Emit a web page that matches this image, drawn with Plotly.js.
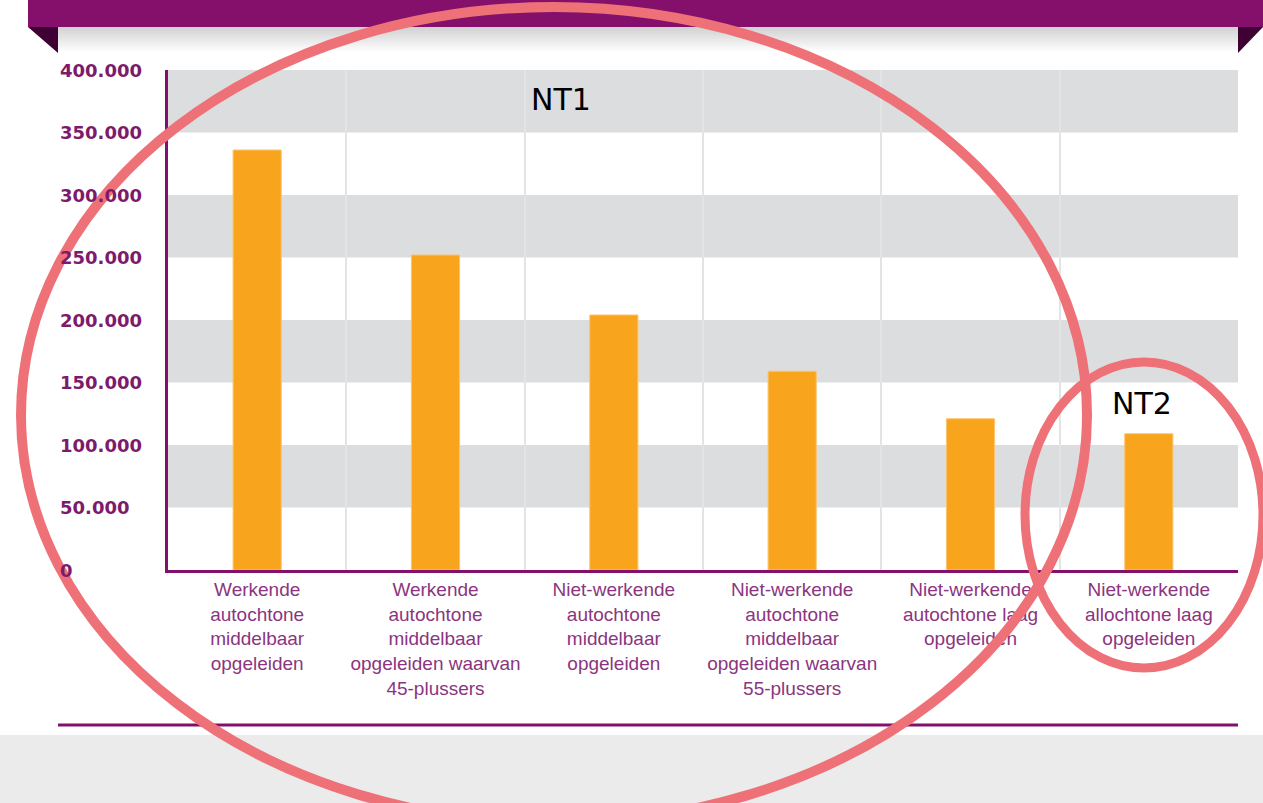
<!DOCTYPE html>
<html>
<head>
<meta charset="utf-8">
<script src="https://cdn.plot.ly/plotly-3.0.1.min.js"></script>
<style>
html,body{margin:0;padding:0;background:#fff;}
#chart{width:1263px;height:803px;}
</style>
</head>
<body>
<div id="chart"></div>
<script>
const categories = [
  "Werkende<br>autochtone<br>middelbaar<br>opgeleiden",
  "Werkende<br>autochtone<br>middelbaar<br>opgeleiden waarvan<br>45-plussers",
  "Niet-werkende<br>autochtone<br>middelbaar<br>opgeleiden",
  "Niet-werkende<br>autochtone<br>middelbaar<br>opgeleiden waarvan<br>55-plussers",
  "Niet-werkende<br>autochtone laag<br>opgeleiden",
  "Niet-werkende<br>allochtone laag<br>opgeleiden"
];
const values = [336000, 252000, 204000, 159000, 121000, 109000];
const yTickValues = [0, 50000, 100000, 150000, 200000, 250000, 300000, 350000, 400000];
const yTickLabels = ["0", "50.000", "100.000", "150.000", "200.000", "250.000", "300.000", "350.000", "400.000"];
const bandStarts = [50000, 150000, 250000, 350000];
const groupLabels = ["NT1", "NT2"];

const W = 1263, H = 803;
const L = 168, R = 25, T = 70, B = 233;
const PW = W - L - R, PH = H - T - B;
const px = x => (x - L) / PW;
const py = y => (H - B - y) / PH;

const PURPLE = "#84106C";
const shapes = [];

// gray bands
bandStarts.forEach(s => shapes.push({
  type: "rect", xref: "paper", yref: "y", x0: 0, x1: 1, y0: s, y1: s + 50000,
  fillcolor: "#DCDDDF", line: {width: 0}, layer: "between"
}));

// footer
shapes.push({type: "rect", xref: "paper", yref: "paper", x0: px(0), x1: px(W), y0: py(735), y1: py(H),
  fillcolor: "#EBEBEB", line: {width: 0}, layer: "above"});
// bottom purple line
shapes.push({type: "line", xref: "paper", yref: "paper", x0: px(58), x1: px(1238), y0: py(725), y1: py(725),
  line: {color: PURPLE, width: 3}, layer: "above"});

// header shadow gradient
const steps = 13;
for (let i = 0; i < steps; i++) {
  const y0 = 27 + i * 2, y1 = y0 + 2;
  const g = Math.round(210 + (255 - 210) * (i / (steps - 1)));
  shapes.push({type: "rect", xref: "paper", yref: "paper", x0: px(58), x1: px(1238), y0: py(y1), y1: py(y0),
    fillcolor: `rgb(${g},${g},${g})`, line: {width: 0}, layer: "above"});
}
// header bar
shapes.push({type: "rect", xref: "paper", yref: "paper", x0: px(28), x1: px(W), y0: py(27), y1: py(0),
  fillcolor: PURPLE, line: {width: 0}, layer: "above"});
// folded corners
shapes.push({type: "path", xref: "paper", yref: "paper",
  path: `M ${L + px(28) * PW},${T} Z`, line: {width: 0}});
function pathPx(pts) {
  return pts.map((p, i) => (i ? "L " : "M ") + px(p[0]) + "," + py(p[1])).join(" ") + " Z";
}
shapes.pop();
shapes.push({type: "path", xref: "paper", yref: "paper", path: pathPx([[28, 27], [58, 27], [58, 53]]),
  fillcolor: "#3F0034", line: {width: 0}, layer: "above"});
shapes.push({type: "path", xref: "paper", yref: "paper", path: pathPx([[1238, 27], [1263, 27], [1238, 53]]),
  fillcolor: "#3F0034", line: {width: 0}, layer: "above"});

// red ellipses
const RED = "#EF7178";
shapes.push({type: "circle", xref: "paper", yref: "paper",
  x0: px(554 - 533), x1: px(554 + 533), y0: py(415 + 408), y1: py(415 - 408),
  line: {color: RED, width: 10}, fillcolor: "rgba(0,0,0,0)", layer: "above"});
shapes.push({type: "circle", xref: "paper", yref: "paper",
  x0: px(1144 - 119), x1: px(1144 + 119), y0: py(515 + 153), y1: py(515 - 153),
  line: {color: RED, width: 9}, fillcolor: "rgba(0,0,0,0)", layer: "above"});

const annotations = yTickValues.map((v, i) => ({
  xref: "paper", yref: "y", x: px(58), y: v, text: yTickLabels[i],
  xanchor: "left", yanchor: "middle", showarrow: false,
  font: {family: "DejaVu Sans", size: 18, color: "#7E1A6C", weight: "bold"}
}));
annotations.push({xref: "paper", yref: "paper", x: px(561), y: py(99), text: groupLabels[0],
  showarrow: false, xanchor: "center", yanchor: "middle",
  font: {family: "DejaVu Sans", size: 30, color: "#000"}});
annotations.push({xref: "paper", yref: "paper", x: px(1142), y: py(404), text: groupLabels[1],
  showarrow: false, xanchor: "center", yanchor: "middle",
  font: {family: "DejaVu Sans", size: 30, color: "#000"}});

const trace = {
  type: "bar", x: categories, y: values,
  marker: {color: "#F8A51D", line: {color: "#FBC46E", width: 1}},
  width: 0.27, hoverinfo: "skip"
};

const layout = {
  width: W, height: H,
  margin: {l: L, r: R, t: T, b: B, pad: 0},
  paper_bgcolor: "#fff", plot_bgcolor: "#fff",
  showlegend: false,
  xaxis: {
    type: "category", tickson: "boundaries", showgrid: true, gridcolor: "#E4E4E4", gridwidth: 2,
    showline: true, linecolor: PURPLE, linewidth: 3, ticks: "", ticklen: 0,
    tickfont: {family: "Liberation Sans, Arial, sans-serif", size: 19, color: "#8B3580"},
    tickangle: 0, automargin: false, fixedrange: true
  },
  yaxis: {
    range: [0, 400000], showgrid: false, zeroline: false, showticklabels: false,
    showline: true, linecolor: PURPLE, linewidth: 3, ticks: "", fixedrange: true
  },
  shapes: shapes,
  annotations: annotations
};

Plotly.newPlot("chart", [trace], layout, {displayModeBar: false, staticPlot: true});
</script>
</body>
</html>
